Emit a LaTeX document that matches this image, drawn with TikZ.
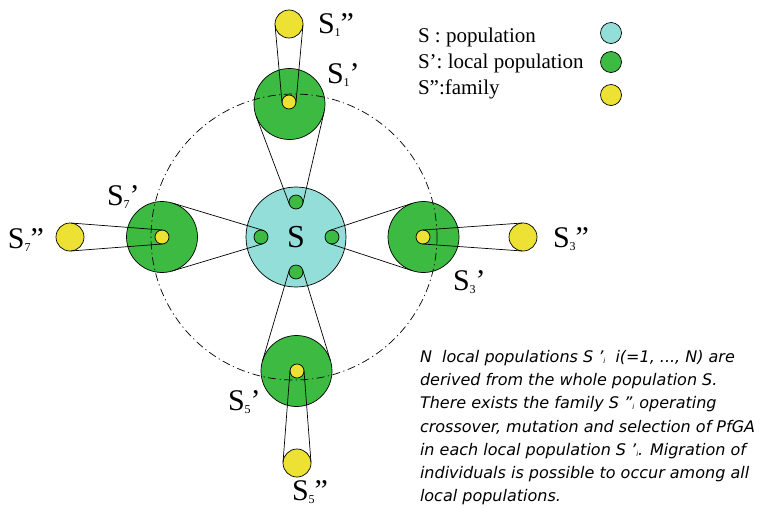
\documentclass[tikz,border=0pt]{standalone}
\usepackage{fontspec}
\setmainfont{Liberation Serif}
\newfontfamily\notefont{DejaVu Sans}
\usetikzlibrary{calc}
\definecolor{popcyan}{RGB}{147,222,216}
\definecolor{localgreen}{RGB}{60,186,66}
\definecolor{famyellow}{RGB}{237,226,52}

% S with a small subscript and primes
\newcommand{\sname}[2]{S\raisebox{-3pt}{\fontsize{12}{12}\selectfont #1}#2}
\newcommand{\subi}{\raisebox{-1pt}{\fontsize{7}{7}\selectfont i}}

% the two outer tangents between two circle nodes
\newcommand{\belt}[4]{%
  \draw[beltline] let \p1=($(#2)-(#1)$),
      \n1={atan2(\y1,\x1)},
      \n2={acos((#3-#4)/veclen(\x1,\y1))},
      \n3={\n1+\n2}, \n4={\n1-\n2} in
    (#1.\n3) -- (#2.\n3)
    (#1.\n4) -- (#2.\n4);}

\begin{document}
\begin{tikzpicture}[
    x=1pt, y=-1pt,
    every node/.style={inner sep=0pt, outer sep=0pt},
    disk/.style={circle, draw, line width=0.7pt},
    popdisk/.style={disk, fill=popcyan, minimum size=100pt},
    localdisk/.style={disk, fill=localgreen, minimum size=71pt},
    famdisk/.style={disk, fill=famyellow, minimum size=28pt},
    port/.style={disk, fill=localgreen, minimum size=14pt},
    seed/.style={disk, fill=famyellow, minimum size=14pt},
    legdot/.style={disk, minimum size=21pt},
    beltline/.style={line width=0.7pt},
    slabel/.style={anchor=base west, font=\fontsize{30}{30}\selectfont},
    keytext/.style={anchor=base west, font=\fontsize{21}{21}\selectfont}
]

\useasboundingbox (0,0) rectangle (768,507);

% ------------------------------------------------
% whole population
% ------------------------------------------------

\node[popdisk, font=\fontsize{32}{32}\selectfont] (pop) at (296,237) {S};

\node[port] (port1) at (296,202) {};
\node[port] (port3) at (332,237) {};
\node[port] (port5) at (296,272) {};
\node[port] (port7) at (261,237) {};

% ------------------------------------------------
% local populations and families
% ------------------------------------------------

\node[localdisk] (loc1) at (289.5,104) {};
\node[localdisk] (loc3) at (423.5,237) {};
\node[localdisk] (loc5) at (296.5,371) {};
\node[localdisk] (loc7) at (162,237) {};

\node[seed] (seed1) at (289,102) {};
\node[seed] (seed3) at (423,237) {};
\node[seed] (seed5) at (297,371) {};
\node[seed] (seed7) at (162,237) {};

\node[famdisk] (fam1) at (289,24) {};
\node[famdisk] (fam3) at (523,237) {};
\node[famdisk] (fam5) at (297,463) {};
\node[famdisk] (fam7) at (70,237) {};

\node[
    circle,
    draw,
    line width=0.7pt,
    dash pattern=on 8pt off 3.5pt on 1.2pt off 3.5pt,
    minimum size=286pt
] (ring) at (294,237) {};

\foreach \i in {1,3,5,7} {
  \belt{port\i}{loc\i}{7}{35.5}
  \belt{seed\i}{fam\i}{7}{14}
}

\node[slabel] (lab1f) at (318,33) {\sname{1}{”}};
\node[slabel] (lab1l) at (327,83) {\sname{1}{’}};
\node[slabel] (lab3l) at (453,290) {\sname{3}{’}};
\node[slabel] (lab3f) at (553,247) {\sname{3}{”}};
\node[slabel] (lab5l) at (228,410) {\sname{5}{’}};
\node[slabel] (lab5f) at (292,500) {\sname{5}{”}};
\node[slabel] (lab7l) at (107,205) {\sname{7}{’}};
\node[slabel] (lab7f) at (8,248) {\sname{7}{”}};

% ------------------------------------------------
% legend
% ------------------------------------------------

\node[keytext] (keypoptxt) at (418,42) {S : population};
\node[keytext] (keyloctxt) at (418,68) {S’: local population};
\node[keytext] (keyfamtxt) at (418,94) {S”:family};

\node[legdot, fill=popcyan] (keypop) at (611,33) {};
\node[legdot, fill=localgreen] (keyloc) at (611,62) {};
\node[legdot, fill=famyellow] (keyfam) at (611,95) {};

% ------------------------------------------------
% note
% ------------------------------------------------

\node[
    anchor=north west,
    align=left,
    font=\notefont\itshape\fontsize{16}{23.3}\selectfont
] (note) at (420,350)
{N\ \ local populations S ’\subi\ \ i(=1, ..., N) are\\
derived from the whole population S.\\
There exists the family S ”\subi\ operating\\
crossover, mutation and selection of PfGA\\
in each local population S ’\subi. Migration of\\
individuals is possible to occur among all\\
local populations.};

\end{tikzpicture}
\end{document}
